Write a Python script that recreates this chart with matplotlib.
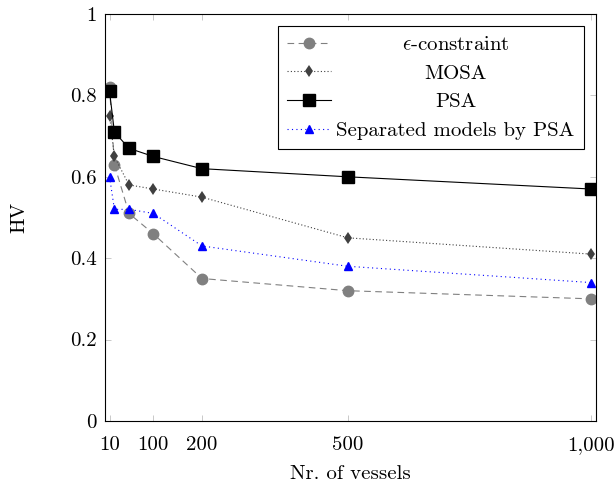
import matplotlib
matplotlib.use('Agg')
import matplotlib.pyplot as plt

# Data
#-----
vessels = [10, 20, 50, 100, 200, 500, 1000]
hvEpsilon = [0.82, 0.63, 0.51, 0.46, 0.35, 0.32, 0.30]
hvMosa = [0.75, 0.65, 0.58, 0.57, 0.55, 0.45, 0.41]
hvPsa = [0.81, 0.71, 0.67, 0.65, 0.62, 0.60, 0.57]
hvSeparated = [0.60, 0.52, 0.52, 0.51, 0.43, 0.38, 0.34]

xTicks = [10, 100, 200, 500, 1000]
xTickLabels = ['10', '100', '200', '500', '1,000']
yTicks = [0, 0.2, 0.4, 0.6, 0.8, 1]
yTickLabels = ['0', '0.2', '0.4', '0.6', '0.8', '1']

plt.rcParams['font.family'] = ['cmr10', 'DejaVu Serif']
plt.rcParams['mathtext.fontset'] = 'cm'
plt.rcParams['axes.unicode_minus'] = False

fontSize = 15

fig = plt.figure(figsize=(6.15, 4.86), dpi=100)
ax = fig.add_axes([0.171, 0.134, 0.798, 0.837])

ax.plot(vessels, hvEpsilon, color='#808080', linestyle=(0, (6, 4)), linewidth=0.8,
        marker='o', markersize=7.5, label=r'$\epsilon$-constraint')
ax.plot(vessels, hvMosa, color='#404040', linestyle=(0, (1, 2)), linewidth=0.8,
        marker='d', markersize=6, markeredgewidth=0, label='MOSA')
ax.plot(vessels, hvPsa, color='black', linestyle='-', linewidth=0.8,
        marker='s', markersize=9, label='PSA')
ax.plot(vessels, hvSeparated, color='blue', linestyle=(0, (1, 3)), linewidth=0.8,
        marker='^', markersize=5.5, label='Separated models by PSA')

ax.set_xlim(1, 1010)
ax.set_ylim(0, 1)
ax.set_xticks(xTicks)
ax.set_xticklabels(xTickLabels)
ax.set_yticks(yTicks)
ax.set_yticklabels(yTickLabels)
ax.tick_params(direction='in', top=True, right=True, length=4, width=0.6,
               color='#c0c0c0', labelsize=fontSize)
ax.tick_params(axis='x', pad=11)
ax.tick_params(axis='y', pad=6)
for spine in ax.spines.values():
  spine.set_linewidth(0.8)

ax.set_xlabel('Nr. of vessels', fontsize=fontSize, labelpad=8)
ax.set_ylabel('HV', fontsize=fontSize, labelpad=30)

leg = ax.legend(loc='upper right', bbox_to_anchor=(0.9756, 0.9705), fontsize=fontSize,
                frameon=True, fancybox=False, edgecolor='black', framealpha=1,
                handlelength=2.1, handletextpad=0.25, labelspacing=0.48,
                borderpad=0.45, borderaxespad=0)
leg.get_frame().set_linewidth(0.8)

# center the legend texts like pgfplots does
fig.canvas.draw()
texts = leg.get_texts()
widths = [t.get_window_extent().width for t in texts]
maxWidth = max(widths)
for t, w in zip(texts, widths):
  t.set_x((maxWidth - w) / 2)

fig.savefig('out.png', dpi=100)
